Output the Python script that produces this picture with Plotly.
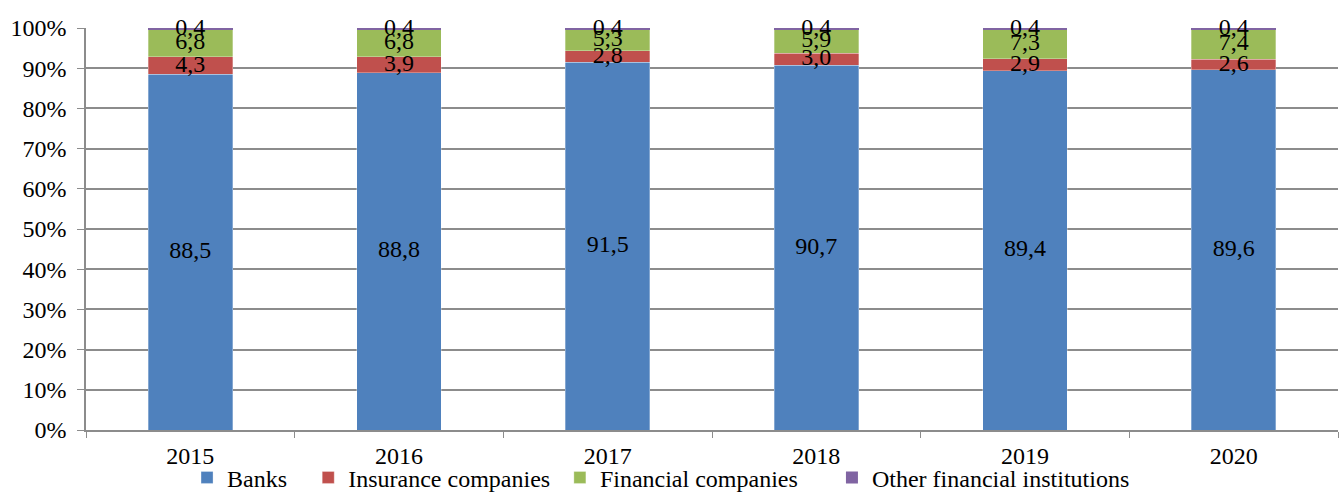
import plotly.graph_objects as go

years = ["2015", "2016", "2017", "2018", "2019", "2020"]
banks = [88.5, 88.8, 91.5, 90.7, 89.4, 89.6]
insurance = [4.3, 3.9, 2.8, 3.0, 2.9, 2.6]
financial = [6.8, 6.8, 5.3, 5.9, 7.3, 7.4]
other = [0.4, 0.4, 0.4, 0.4, 0.4, 0.4]

names = ["Banks", "Insurance companies", "Financial companies", "Other financial institutions"]
colors = ["#4F81BD", "#C0504D", "#9BBB59", "#8064A2"]
edge_widths = [0.6, 0.6, 0.6, 0]
values = [banks, insurance, financial, other]
legend_ids = ["legend", "legend2", "legend3", "legend4"]
legend_x = [0.0807, 0.1775, 0.3785, 0.5958]

FONT = "Times New Roman, Liberation Serif, Tinos, serif"
FS = 24
fig = go.Figure()
for name, vals, color, lid, ew in zip(names, values, colors, legend_ids, edge_widths):
    fig.add_trace(go.Bar(x=years, y=vals, name=name, legend=lid,
                         marker=dict(color=color, line=dict(width=ew, color="rgba(255,255,255,0.5)"))))

# labels at the middle of each segment (positions normalised to 100 %)
totals = [sum(v[i] for v in values) for i in range(len(years))]
base = [0.0] * len(years)
lx, ly, lt = [], [], []
for vals in values:
    for i, v in enumerate(vals):
        lx.append(years[i])
        ly.append((base[i] + v / 2) * 100 / totals[i])
        lt.append(f"{v:.1f}".replace(".", ","))
        base[i] += v
fig.add_trace(go.Scatter(x=lx, y=ly, text=lt, mode="text", showlegend=False,
                         textfont=dict(family=FONT, size=FS, color="black"),
                         hoverinfo="skip", cliponaxis=False))

legend_common = dict(orientation="h", xanchor="left", y=-0.063, yanchor="top",
                     font=dict(family=FONT, size=FS, color="black"),
                     bgcolor="rgba(0,0,0,0)", borderwidth=0)
layout_legends = {}
for lid, lxp in zip(legend_ids, legend_x):
    layout_legends[lid] = dict(legend_common, x=lxp)

fig.update_layout(
    barmode="stack",
    barnorm="percent",
    bargap=0.595,
    width=1343, height=493,
    margin=dict(l=86, r=5, t=28, b=63, autoexpand=False),
    plot_bgcolor="white", paper_bgcolor="white",
    font=dict(family=FONT, size=FS, color="black"),
    xaxis=dict(type="category", showline=True, linecolor="#8c8c8c", linewidth=1.5,
               ticks="outside", tickson="boundaries", ticklen=6, tickcolor="#8c8c8c",
               tickfont=dict(family=FONT, size=FS), ticklabelstandoff=3),
    yaxis=dict(range=[0, 100], dtick=10, ticksuffix="%", showgrid=True,
               gridcolor="#8c8c8c", gridwidth=1.5, showline=True, linecolor="#8c8c8c",
               linewidth=1.5, ticks="outside", ticklen=7, tickcolor="#8c8c8c",
               tickfont=dict(family=FONT, size=FS), zeroline=False,
               ticklabelstandoff=6),
    **layout_legends,
)

fig.write_html("out.html", config={"displayModeBar": False},
               post_script="document.body.style.margin='0';document.body.style.overflow='hidden';")
